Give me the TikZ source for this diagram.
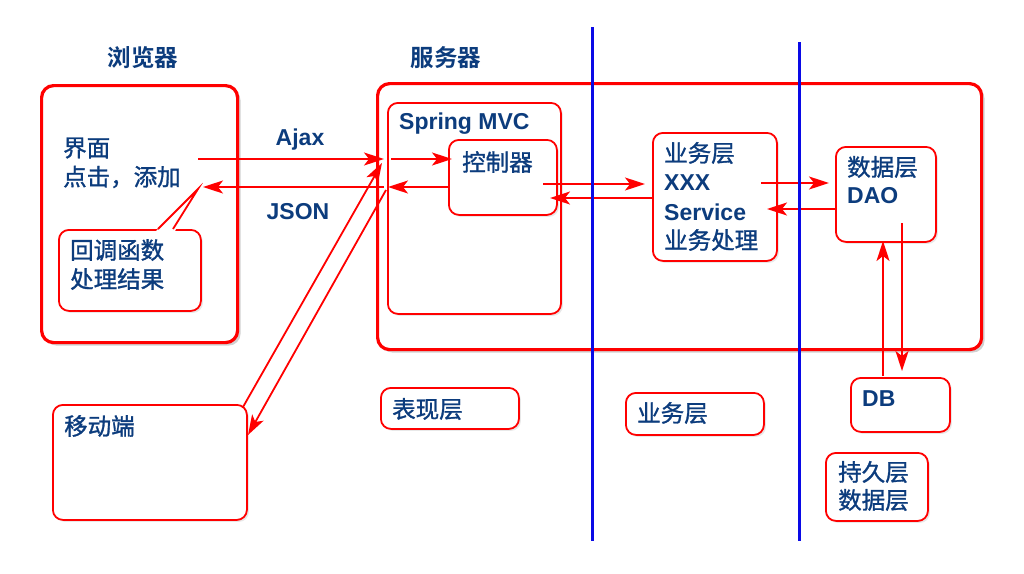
\documentclass[tikz,border=0pt]{standalone}
\usepackage{fontspec}
\setmainfont{Liberation Sans}
\newfontfamily\cjk[FakeBold=1.2]{Noto Sans CJK SC}
\newfontfamily\cjkt{Noto Sans CJK SC Bold}
\usetikzlibrary{arrows.meta,shadows,calc}
\definecolor{txt}{RGB}{12,60,125}
\definecolor{rd}{RGB}{255,0,0}
\definecolor{bl}{RGB}{10,10,230}
\tikzset{
  bigbox/.style={draw=rd, line width=3.2pt, rounded corners=12pt, fill=white,
    drop shadow={shadow xshift=3pt, shadow yshift=-3pt, opacity=0.3, fill=black!60},
    anchor=north west, inner sep=0pt},
  smallbox/.style={draw=rd, line width=1.8pt, rounded corners=10pt, fill=white,
    drop shadow={shadow xshift=2pt, shadow yshift=-2pt, opacity=0.15, fill=black!60},
    anchor=north west, inner sep=0pt},
  lbl/.style={text=txt, anchor=west, inner sep=0pt, font=\fontsize{23}{29}\selectfont\bfseries, align=left},
  zh/.style={text=txt, anchor=west, inner sep=0pt, font=\fontsize{23.5}{29}\selectfont\cjk, align=left},
  arr/.style={draw=rd, line width=1.8pt, -{Stealth[length=20pt,width=13pt,inset=5pt]}},
  vline/.style={draw=bl, line width=3pt}
}
\begin{document}
\begin{tikzpicture}[x=1pt,y=-1pt]
\useasboundingbox (0,0) rectangle (1024,573);
% titles
\node[text=txt, font=\fontsize{23.5}{29}\selectfont\cjkt, inner sep=0pt] (tbrowser) at (143,58) {浏览器};
\node[text=txt, font=\fontsize{23.5}{29}\selectfont\cjkt, inner sep=0pt] (tserver) at (446,58) {服务器};
% big boxes
\node[bigbox, minimum width=196pt, minimum height=257pt] (browser) at (40,84) {};
\node[bigbox, minimum width=604pt, minimum height=266pt] (server) at (376,82) {};
% inner boxes
\node[smallbox, minimum width=173pt, minimum height=211pt] (mvc) at (387,102) {};
\node[smallbox, minimum width=108pt, minimum height=75pt] (ctrl) at (448,139) {};
\node[smallbox, minimum width=124pt, minimum height=128pt] (svc) at (652,132) {};
\node[smallbox, minimum width=100pt, minimum height=95pt] (dao) at (835,146) {};
% outside boxes
\node[smallbox, minimum width=99pt, minimum height=54pt] (db) at (850,377) {};
\node[smallbox, minimum width=102pt, minimum height=68pt] (persist) at (825,452) {};
\node[smallbox, minimum width=138pt, minimum height=42pt] (bizlbl) at (625,392) {};
\node[smallbox, minimum width=138pt, minimum height=41pt] (prelbl) at (380,387) {};
\node[smallbox, minimum width=194pt, minimum height=115pt] (mobile) at (52,404) {};
% callout
\node[smallbox, minimum width=142pt, minimum height=81pt] (callout) at (58,229) {};
\fill[white] (156,231) -- (198,189) -- (175,231) -- cycle;
\draw[draw=rd, line width=1.8pt, line join=miter] (158,229) -- (198,189) -- (173,229);
% texts
\node[zh] (t1) at (63,148) {界面};
\node[zh] (t2) at (63,177) {点击，添加};
\node[zh] (t3) at (70,250) {回调函数};
\node[zh] (t4) at (70,279) {处理结果};
\node[lbl] (tmvc) at (399,124) {Spring MVC};
\node[zh] (tctrl) at (462,162) {控制器};
\node[zh] (s1) at (664,153) {业务层};
\node[lbl] (s2) at (664,183) {XXX};
\node[lbl] (s3) at (664,212) {Service};
\node[zh] (s4) at (664,240) {业务处理};
\node[zh] (d1) at (847,167) {数据层};
\node[lbl] (d2) at (847,196) {DAO};
\node[lbl] (tdb) at (862,399) {DB};
\node[zh] (p1) at (838,472) {持久层};
\node[zh] (p2) at (838,500) {数据层};
\node[zh] (tbiz) at (637,413) {业务层};
\node[zh] (tpre) at (392,409) {表现层};
\node[zh] (tmob) at (64,426) {移动端};
\node[lbl, anchor=center] (tajax) at (300,140) {Ajax};
\node[lbl, anchor=center] (tjson) at (298,212) {JSON};
% connector endpoints
\coordinate (ajaxS) at (198,159);
\coordinate (ajaxE) at (384,159);
\coordinate (jsonS) at (384,187);
\coordinate (jsonE) at (203,187);
\coordinate (inS) at (391,159);
\coordinate (inE) at (452,159);
\coordinate (outS) at (448,187);
\coordinate (outE) at (388,187);
\coordinate (csS) at (543,184);
\coordinate (csE) at (645,184);
\coordinate (scS) at (652,198);
\coordinate (scE) at (550,198);
\coordinate (sdS) at (761,183);
\coordinate (sdE) at (829,183);
\coordinate (dsS) at (835,209);
\coordinate (dsE) at (767,209);
\coordinate (dbS) at (883,376);
\coordinate (dbE) at (883,241);
\coordinate (ddS) at (902,223);
\coordinate (ddE) at (902,371);
\coordinate (mS) at (243,407);
\coordinate (mE) at (382,163);
\coordinate (rS) at (386,190);
\coordinate (rE) at (248,435);
\draw[arr] (ajaxS) -- (ajaxE);
\draw[arr] (jsonS) -- (jsonE);
\draw[arr] (inS) -- (inE);
\draw[arr] (outS) -- (outE);
\draw[arr] (csS) -- (csE);
\draw[arr] (scS) -- (scE);
\draw[arr] (sdS) -- (sdE);
\draw[arr] (dsS) -- (dsE);
\draw[arr] (dbS) -- (dbE);
\draw[arr] (ddS) -- (ddE);
\draw[arr] (mS) -- (mE);
\draw[arr] (rS) -- (rE);
% blue separators
\coordinate (b1t) at (592,27);
\coordinate (b1b) at (592,541);
\coordinate (b2t) at (799,42);
\coordinate (b2b) at (799,541);
\draw[vline] (b1t) -- (b1b);
\draw[vline] (b2t) -- (b2b);
\end{tikzpicture}
\end{document}
